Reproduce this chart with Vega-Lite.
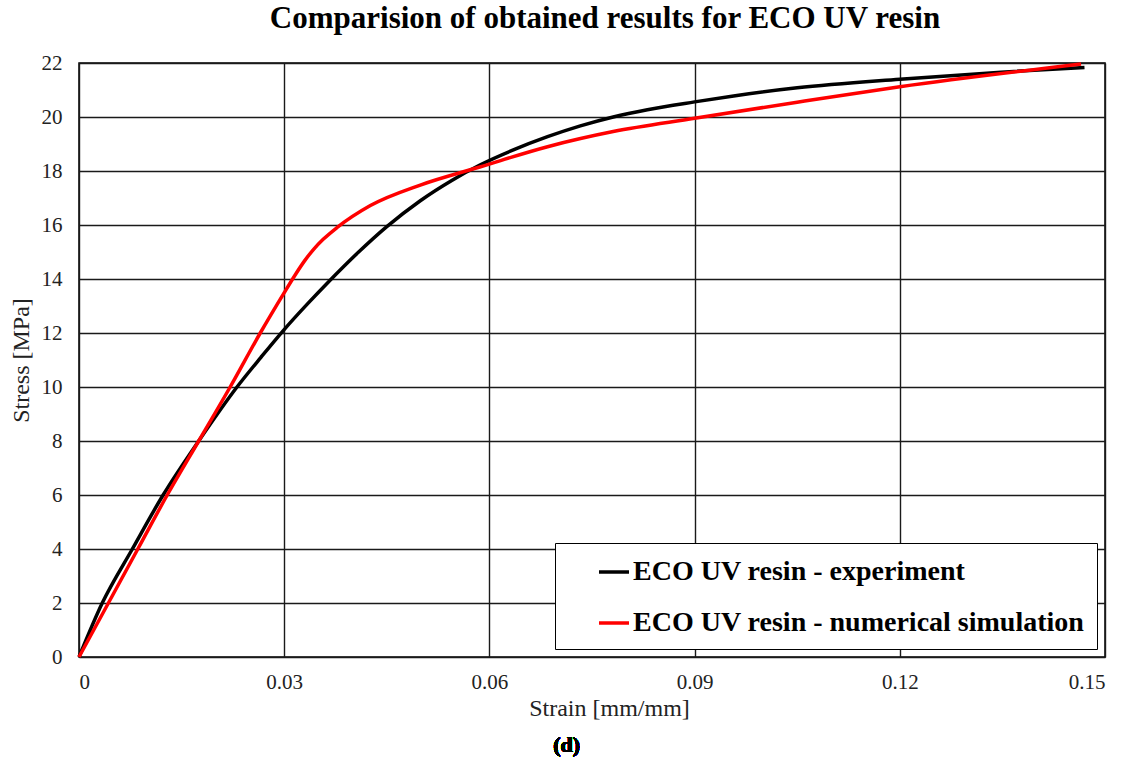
{
  "$schema": "https://vega.github.io/schema/vega-lite/v6.json",
  "width": 1026,
  "height": 594,
  "autosize": {"type": "none"},
  "padding": {"left": 79, "top": 63, "right": 28, "bottom": 105},
  "background": "white",
  "config": {
    "font": "Liberation Serif",
    "view": {"stroke": "black", "strokeWidth": 1.5},
    "axis": {
      "gridColor": "#1a1a1a",
      "gridWidth": 1.4,
      "gridOpacity": 1,
      "domain": false,
      "ticks": false,
      "labelFont": "Liberation Serif",
      "labelFontSize": 21,
      "labelColor": "#222",
      "titleFont": "Liberation Serif",
      "titleFontSize": 24,
      "titleFontWeight": "normal",
      "titleColor": "#222"
    }
  },
  "title": {
    "text": "Comparision of obtained results for ECO UV resin",
    "font": "Liberation Serif",
    "fontSize": 31,
    "fontWeight": "bold",
    "color": "black",
    "anchor": "middle",
    "offset": 17,
    "dx": 13
  },
  "data": {
    "values": [
      {"series": "ECO UV resin - experiment", "strain": 0, "stress": 0},
      {"series": "ECO UV resin - experiment", "strain": 0.0034, "stress": 2},
      {"series": "ECO UV resin - experiment", "strain": 0.0078, "stress": 4},
      {"series": "ECO UV resin - experiment", "strain": 0.0123, "stress": 6},
      {"series": "ECO UV resin - experiment", "strain": 0.0175, "stress": 8},
      {"series": "ECO UV resin - experiment", "strain": 0.0231, "stress": 10},
      {"series": "ECO UV resin - experiment", "strain": 0.0266, "stress": 11.1},
      {"series": "ECO UV resin - experiment", "strain": 0.0299, "stress": 12.1},
      {"series": "ECO UV resin - experiment", "strain": 0.0333, "stress": 13.05},
      {"series": "ECO UV resin - experiment", "strain": 0.0365, "stress": 13.9},
      {"series": "ECO UV resin - experiment", "strain": 0.0408, "stress": 14.98},
      {"series": "ECO UV resin - experiment", "strain": 0.045, "stress": 15.94},
      {"series": "ECO UV resin - experiment", "strain": 0.0499, "stress": 16.9},
      {"series": "ECO UV resin - experiment", "strain": 0.0545, "stress": 17.65},
      {"series": "ECO UV resin - experiment", "strain": 0.0586, "stress": 18.22},
      {"series": "ECO UV resin - experiment", "strain": 0.0635, "stress": 18.78},
      {"series": "ECO UV resin - experiment", "strain": 0.0685, "stress": 19.27},
      {"series": "ECO UV resin - experiment", "strain": 0.0733, "stress": 19.67},
      {"series": "ECO UV resin - experiment", "strain": 0.0781, "stress": 20.0},
      {"series": "ECO UV resin - experiment", "strain": 0.0831, "stress": 20.27},
      {"series": "ECO UV resin - experiment", "strain": 0.09, "stress": 20.56},
      {"series": "ECO UV resin - experiment", "strain": 0.0957, "stress": 20.78},
      {"series": "ECO UV resin - experiment", "strain": 0.105, "stress": 21.08},
      {"series": "ECO UV resin - experiment", "strain": 0.12, "stress": 21.4},
      {"series": "ECO UV resin - experiment", "strain": 0.1348, "stress": 21.66},
      {"series": "ECO UV resin - experiment", "strain": 0.147, "stress": 21.83},
      {"series": "ECO UV resin - numerical simulation", "strain": 0, "stress": 0},
      {"series": "ECO UV resin - numerical simulation", "strain": 0.0043, "stress": 2},
      {"series": "ECO UV resin - numerical simulation", "strain": 0.0086, "stress": 4},
      {"series": "ECO UV resin - numerical simulation", "strain": 0.0129, "stress": 6},
      {"series": "ECO UV resin - numerical simulation", "strain": 0.0175, "stress": 8},
      {"series": "ECO UV resin - numerical simulation", "strain": 0.0221, "stress": 10},
      {"series": "ECO UV resin - numerical simulation", "strain": 0.0265, "stress": 12},
      {"series": "ECO UV resin - numerical simulation", "strain": 0.0299, "stress": 13.45},
      {"series": "ECO UV resin - numerical simulation", "strain": 0.0316, "stress": 14.15},
      {"series": "ECO UV resin - numerical simulation", "strain": 0.033, "stress": 14.68},
      {"series": "ECO UV resin - numerical simulation", "strain": 0.0343, "stress": 15.1},
      {"series": "ECO UV resin - numerical simulation", "strain": 0.0357, "stress": 15.47},
      {"series": "ECO UV resin - numerical simulation", "strain": 0.0377, "stress": 15.9},
      {"series": "ECO UV resin - numerical simulation", "strain": 0.0426, "stress": 16.72},
      {"series": "ECO UV resin - numerical simulation", "strain": 0.0499, "stress": 17.48},
      {"series": "ECO UV resin - numerical simulation", "strain": 0.0586, "stress": 18.15},
      {"series": "ECO UV resin - numerical simulation", "strain": 0.0685, "stress": 18.9},
      {"series": "ECO UV resin - numerical simulation", "strain": 0.0781, "stress": 19.46},
      {"series": "ECO UV resin - numerical simulation", "strain": 0.09, "stress": 19.95},
      {"series": "ECO UV resin - numerical simulation", "strain": 0.105, "stress": 20.55},
      {"series": "ECO UV resin - numerical simulation", "strain": 0.12, "stress": 21.12},
      {"series": "ECO UV resin - numerical simulation", "strain": 0.1465, "stress": 21.96}
    ]
  },
  "layer": [
    {
      "mark": {"type": "line", "strokeWidth": 3.5, "interpolate": "monotone", "clip": false},
      "encoding": {
        "x": {
          "field": "strain",
          "type": "quantitative",
          "scale": {"domain": [0, 0.15], "nice": false, "zero": false},
          "axis": {
            "values": [0, 0.03, 0.06, 0.09, 0.12, 0.15],
            "format": ".2~f",
            "labelPadding": 14,
            "title": "Strain [mm/mm]",
            "titlePadding": 4,
            "titleX": 530
          }
        },
        "y": {
          "field": "stress",
          "type": "quantitative",
          "scale": {"domain": [0, 22], "nice": false},
          "axis": {
            "values": [0, 2, 4, 6, 8, 10, 12, 14, 16, 18, 20, 22],
            "labelPadding": 17,
            "title": "Stress [MPa]",
            "titlePadding": 8
          }
        },
        "color": {
          "field": "series",
          "type": "nominal",
          "scale": {
            "domain": ["ECO UV resin - experiment", "ECO UV resin - numerical simulation"],
            "range": ["black", "#ff0000"]
          },
          "legend": {
            "title": null,
            "orient": "bottom-right",
            "offset": 8,
            "strokeColor": "black",
            "fillColor": "white",
            "padding": 12,
            "symbolType": "stroke",
            "symbolSize": 900,
            "symbolStrokeWidth": 3.5,
            "symbolOffset": 30,
            "labelFont": "Liberation Serif",
            "labelFontSize": 28,
            "labelFontWeight": "bold",
            "labelColor": "black",
            "labelOffset": 2,
            "labelLimit": 700,
            "rowPadding": 20
          }
        }
      }
    },
    {
      "mark": {"type": "text", "clip": false, "font": "Liberation Serif", "fontSize": 22, "fontWeight": "bold", "color": "black", "baseline": "middle", "align": "center"},
      "encoding": {
        "x": {"datum": 0.0713, "type": "quantitative"},
        "y": {"datum": -3.26, "type": "quantitative"},
        "text": {"value": "(d)"}
      }
    }
  ]
}
